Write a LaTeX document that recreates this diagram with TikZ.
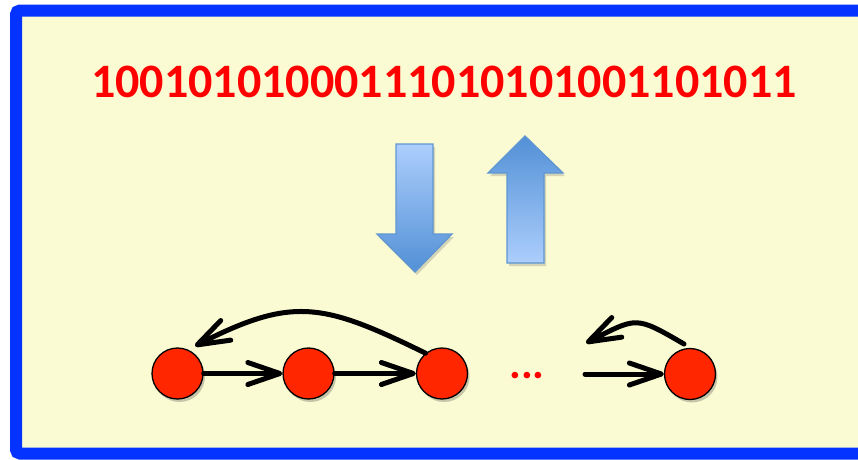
\documentclass[tikz,border=0pt]{standalone}
\usepackage{fontspec}
\setmainfont{Carlito}
\usetikzlibrary{arrows.meta,shadows}
\definecolor{bg}{RGB}{250,251,210}
\definecolor{framec}{RGB}{4,51,255}
\definecolor{nodered}{RGB}{255,38,0}
\definecolor{txtred}{RGB}{255,0,0}
\definecolor{arrlight}{RGB}{172,206,252}
\definecolor{arrdark}{RGB}{82,144,214}
\definecolor{arredge}{RGB}{95,150,210}
\begin{document}
\begin{tikzpicture}[x=1pt,y=-1pt,
  state/.style={circle,draw=black,line width=1.3pt,fill=nodered,minimum size=51pt,inner sep=0pt,
    drop shadow={shadow xshift=2pt,shadow yshift=-3pt,opacity=0.3,fill=black!70}},
  link/.style={line width=5pt,line cap=round,-{Straight Barb[length=32pt,width=22pt,round]}},
  bigarrow/.style={draw=arredge,line width=1.3pt,line join=miter,
    drop shadow={shadow xshift=2pt,shadow yshift=-3pt,opacity=0.25,fill=black!60}}
]
\useasboundingbox (0,0) rectangle (858,459);
\clip (0,0) rectangle (858,459);
\fill[white] (0,0) rectangle (858,459);
% frame
\draw[framec,line width=12pt,fill=bg,rounded corners=4pt] (16,10.5) rectangle (875,453.5);
% bit string
\node[font=\bfseries\fontsize{48}{48}\selectfont,text=txtred,anchor=base,inner sep=0pt] (bits) at (444,97) {10010101000111010101001101011};
% big arrows
\path[bigarrow,top color=arrlight,bottom color=arrdark]
  (396,144) -- (433,144) -- (433,234) -- (452,234) -- (415,272) -- (377,234) -- (396,234) -- cycle;
\path[bigarrow,top color=arrdark,bottom color=arrlight]
  (525,136) -- (563,173) -- (544,173) -- (544,263) -- (507,263) -- (507,173) -- (488,173) -- cycle;
% states
\node[state] (n1) at (177.5,373.5) {};
\node[state] (n2) at (308.5,373.5) {};
\node[state] (n3) at (442,373.5) {};
\node[state] (n4) at (690,374) {};
\node[font=\bfseries\fontsize{44}{44}\selectfont,text=txtred,anchor=base,inner sep=0pt] (dots) at (527,378) {...};
\coordinate (c2) at (586,343);
\coordinate (c3) at (585,374);
% connectors
\draw[link] (n1) -- (n2);
\draw[link] (n2) -- (n3);
\draw[link] (n3.129) .. controls (323,303) and (293,296) .. ([shift={(17.5,-27.5)}]n1.center);
\draw[link] ([shift={(-6,-30)}]n4.center) .. controls (635,315.5) and (637,317) .. (c2);
\draw[link] (c3) -- (n4);
\end{tikzpicture}
\end{document}
